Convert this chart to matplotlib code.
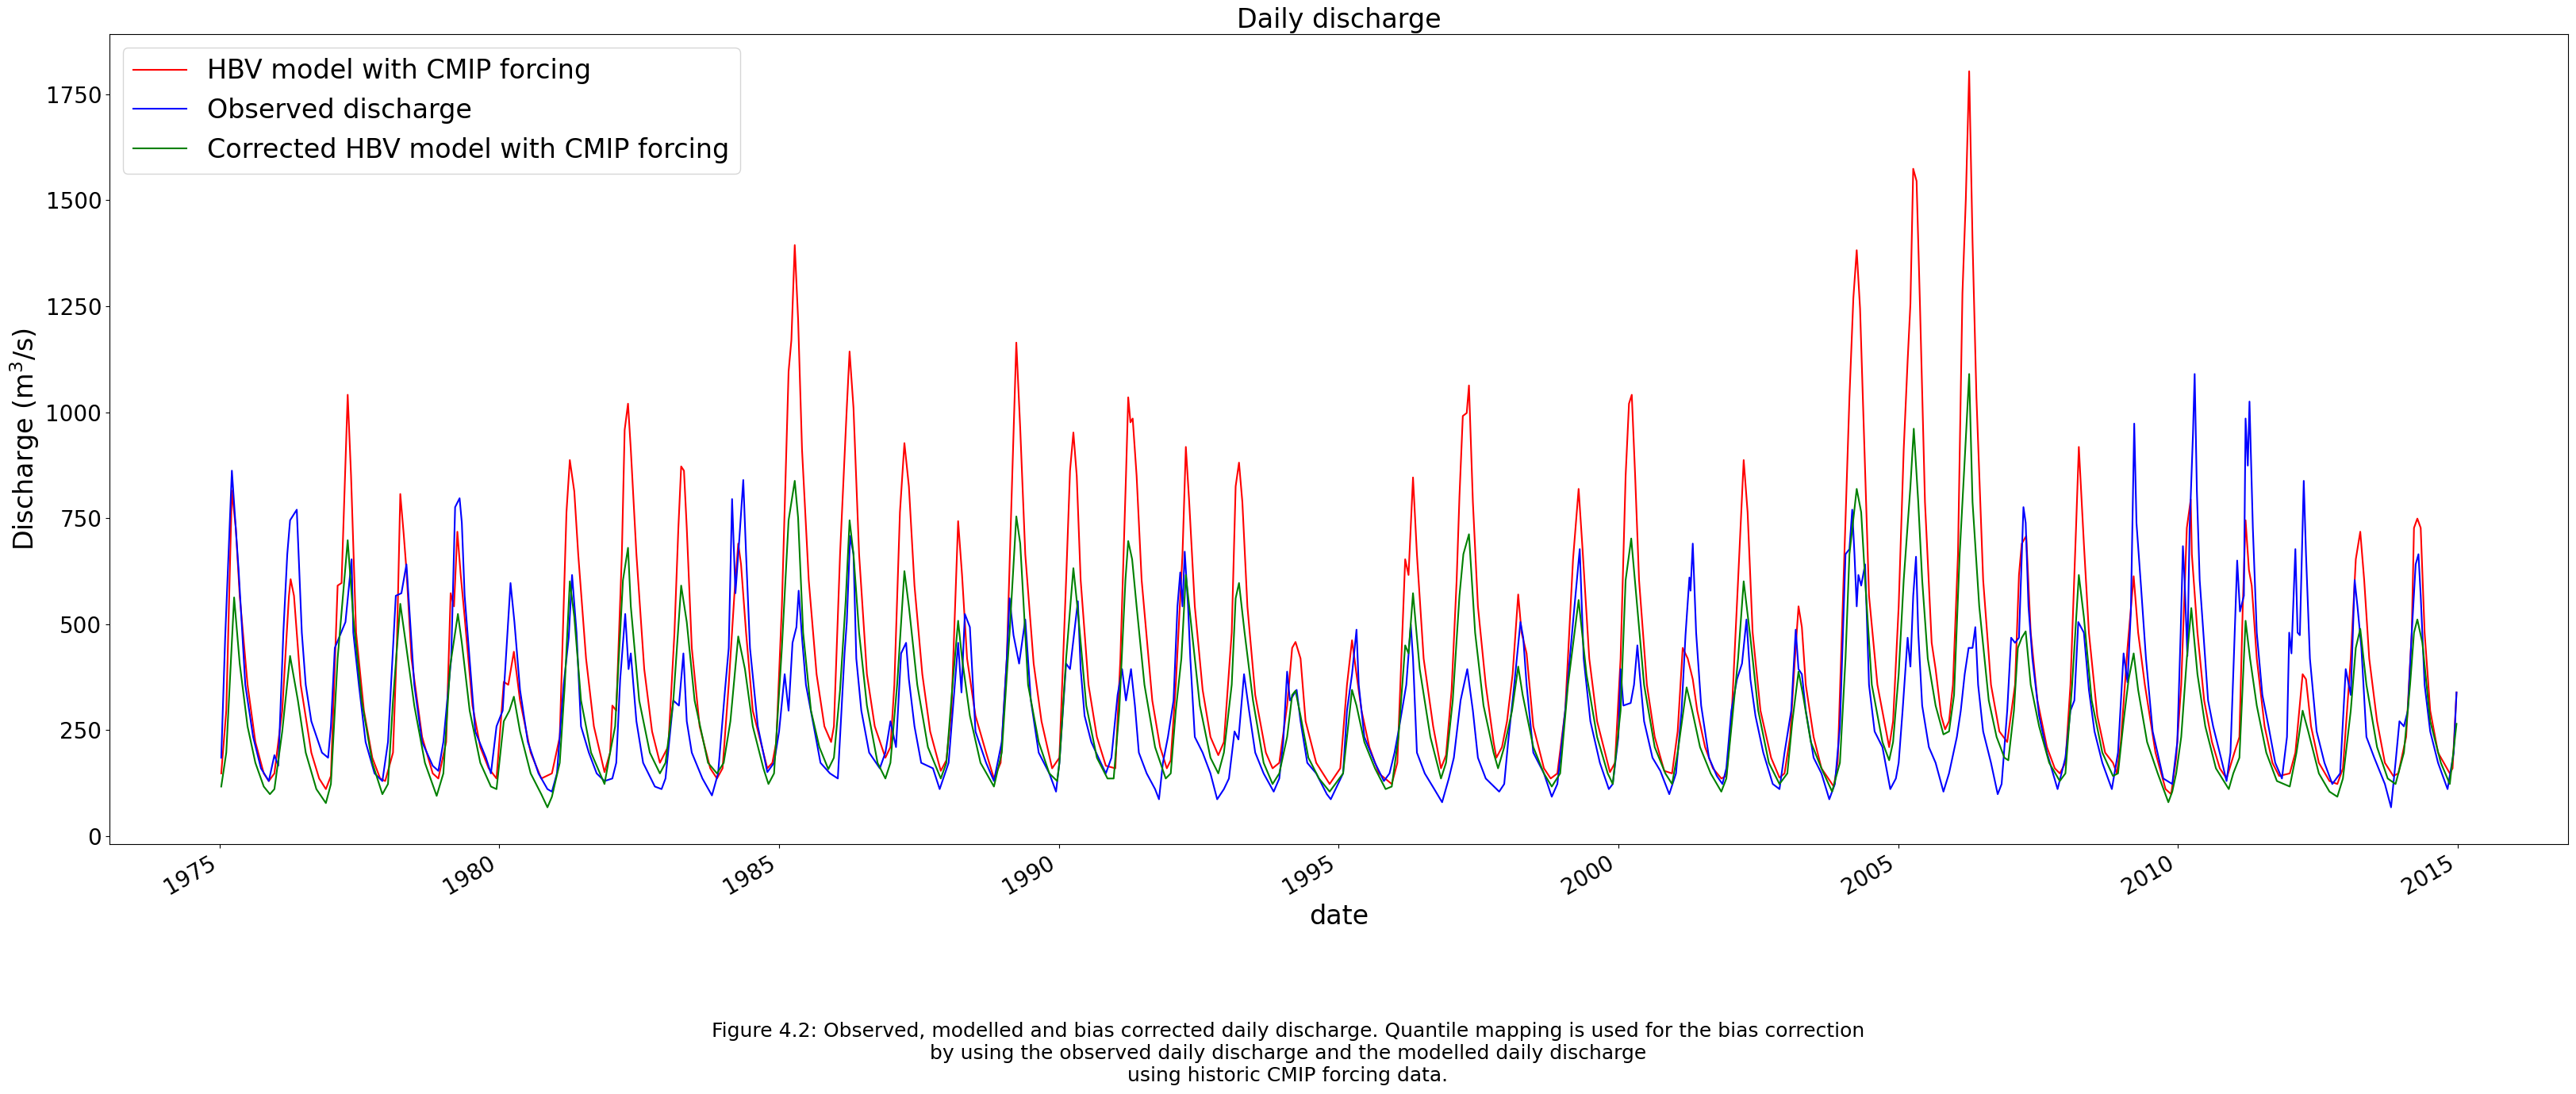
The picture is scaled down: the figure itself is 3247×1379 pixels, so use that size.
import matplotlib
matplotlib.use("Agg")
import matplotlib.pyplot as plt
import matplotlib.dates as mdates
import numpy as np
import pandas as pd

# ----- data (decimal year, discharge m3/s) -----
obs_t = [1975.03, 1975.10, 1975.22, 1975.34, 1975.46, 1975.60, 1975.74, 1975.88, 1975.98,
         1976.05, 1976.14, 1976.21, 1976.26, 1976.38, 1976.47, 1976.54, 1976.64, 1976.83, 1976.94, 1976.99,
         1977.06, 1977.25, 1977.36, 1977.39, 1977.49, 1977.61, 1977.77, 1977.91,
         1978.01, 1978.15, 1978.25, 1978.34, 1978.48, 1978.62, 1978.81, 1978.91,
         1979.00, 1979.14, 1979.21, 1979.29, 1979.33, 1979.38, 1979.57, 1979.76, 1979.85, 1979.95,
         1980.06, 1980.20, 1980.27, 1980.37, 1980.51, 1980.70, 1980.86, 1980.94,
         1981.03, 1981.15, 1981.24, 1981.30, 1981.38, 1981.46, 1981.60, 1981.74, 1981.88,
         1982.02, 1982.09, 1982.16, 1982.25, 1982.31, 1982.35, 1982.45, 1982.57, 1982.78, 1982.90, 1982.97,
         1983.11, 1983.21, 1983.29, 1983.35, 1983.44, 1983.63, 1983.80, 1983.91,
         1984.03, 1984.10, 1984.16, 1984.22, 1984.29, 1984.36, 1984.41, 1984.48, 1984.62, 1984.79, 1984.91,
         1985.00, 1985.10, 1985.17, 1985.24, 1985.31, 1985.35, 1985.41, 1985.48, 1985.62, 1985.74, 1985.91,
         1986.05, 1986.17, 1986.21, 1986.27, 1986.33, 1986.38, 1986.47, 1986.61, 1986.80, 1986.90, 1986.99,
         1987.09, 1987.18, 1987.27, 1987.32, 1987.42, 1987.54, 1987.75, 1987.87,
         1988.03, 1988.14, 1988.20, 1988.26, 1988.32, 1988.41, 1988.51, 1988.70, 1988.84, 1988.98,
         1989.07, 1989.12, 1989.19, 1989.29, 1989.40, 1989.50, 1989.64, 1989.83, 1989.95,
         1990.01, 1990.13, 1990.20, 1990.34, 1990.39, 1990.46, 1990.58, 1990.75, 1990.84, 1990.94,
         1991.05, 1991.13, 1991.20, 1991.29, 1991.36, 1991.43, 1991.57, 1991.72, 1991.79, 1991.86, 1991.95,
         1992.05, 1992.12, 1992.17, 1992.21, 1992.25, 1992.31, 1992.35, 1992.43, 1992.57, 1992.71, 1992.83, 1992.95,
         1993.04, 1993.14, 1993.21, 1993.31, 1993.40, 1993.51, 1993.66, 1993.84, 1993.94,
         1994.01, 1994.08, 1994.13, 1994.25, 1994.32, 1994.44, 1994.60, 1994.79, 1994.86,
         1995.08, 1995.15, 1995.24, 1995.32, 1995.36, 1995.46, 1995.65, 1995.81, 1995.91,
         1996.00, 1996.07, 1996.21, 1996.29, 1996.33, 1996.40, 1996.54, 1996.71, 1996.85, 1996.97,
         1997.06, 1997.18, 1997.30, 1997.40, 1997.49, 1997.63, 1997.87, 1997.96,
         1998.03, 1998.13, 1998.25, 1998.30, 1998.36, 1998.48, 1998.67, 1998.81, 1998.91,
         1999.05, 1999.19, 1999.31, 1999.38, 1999.50, 1999.67, 1999.83, 1999.90,
         2000.00, 2000.04, 2000.09, 2000.22, 2000.28, 2000.34, 2000.39, 2000.46, 2000.61, 2000.75, 2000.91,
         2001.03, 2001.13, 2001.20, 2001.27, 2001.29, 2001.33, 2001.39, 2001.48, 2001.62, 2001.76, 2001.86, 2001.93,
         2002.02, 2002.12, 2002.21, 2002.29, 2002.36, 2002.45, 2002.59, 2002.76, 2002.88, 2002.97,
         2003.09, 2003.17, 2003.22, 2003.28, 2003.35, 2003.49, 2003.63, 2003.77, 2003.87, 2003.96,
         2004.06, 2004.13, 2004.18, 2004.22, 2004.26, 2004.29, 2004.34, 2004.41, 2004.48, 2004.58, 2004.72, 2004.86, 2004.96,
         2005.01, 2005.08, 2005.17, 2005.22, 2005.27, 2005.32, 2005.36, 2005.43, 2005.55, 2005.67, 2005.81, 2005.91,
         2006.05, 2006.12, 2006.19, 2006.26, 2006.33, 2006.38, 2006.43, 2006.52, 2006.66, 2006.78, 2006.85, 2006.95,
         2007.02, 2007.09, 2007.16, 2007.24, 2007.28, 2007.33, 2007.40, 2007.52, 2007.66, 2007.85, 2007.99,
         2008.08, 2008.15, 2008.22, 2008.32, 2008.41, 2008.51, 2008.65, 2008.82, 2008.93,
         2009.03, 2009.10, 2009.16, 2009.22, 2009.26, 2009.34, 2009.43, 2009.55, 2009.74, 2009.90, 2009.99,
         2010.05, 2010.09, 2010.12, 2010.17, 2010.21, 2010.27, 2010.30, 2010.34, 2010.39, 2010.54, 2010.63, 2010.77, 2010.87, 2010.94,
         2011.00, 2011.06, 2011.11, 2011.18, 2011.21, 2011.25, 2011.28, 2011.34, 2011.41, 2011.51, 2011.62, 2011.74, 2011.86, 2011.95, 2011.99,
         2012.03, 2012.10, 2012.14, 2012.18, 2012.25, 2012.29, 2012.36, 2012.48, 2012.62, 2012.76, 2012.90,
         2013.00, 2013.09, 2013.16, 2013.21, 2013.28, 2013.37, 2013.51, 2013.70, 2013.81, 2013.89, 2013.96,
         2014.04, 2014.11, 2014.18, 2014.25, 2014.30, 2014.34, 2014.41, 2014.51, 2014.65, 2014.82, 2014.93, 2014.98]
obs_q = [185, 468, 862, 628, 357, 234, 160, 130, 191,
         166, 480, 665, 745, 770, 480, 357, 271, 197, 185, 259,
         444, 505, 653, 480, 357, 222, 148, 130,
         222, 567, 573, 641, 357, 222, 166, 154,
         222, 419, 776, 797, 739, 567, 247, 185, 148, 259,
         296, 597, 505, 345, 222, 148, 111, 105,
         148, 357, 468, 616, 480, 259, 197, 148, 130,
         136, 173, 370, 524, 394, 431, 271, 173, 117, 111, 136,
         320, 308, 431, 271, 197, 136, 96, 148,
         339, 444, 795, 573, 702, 840, 665, 444, 259, 151, 173,
         247, 382, 296, 456, 493, 579, 468, 357, 259, 173, 148,
         136, 431, 505, 708, 665, 419, 296, 197, 160, 197, 271,
         210, 431, 456, 370, 259, 173, 160, 111,
         173, 357, 456, 339, 524, 493, 247, 173, 130, 222,
         419, 561, 474, 407, 511, 320, 197, 148, 105,
         173, 407, 394, 554, 394, 284, 222, 173, 148, 185,
         333, 394, 320, 394, 308, 197, 148, 111, 87, 173, 234,
         320, 542, 622, 542, 671, 542, 419, 234, 197, 148, 87, 111,
         136, 247, 228, 382, 296, 197, 148, 105, 136,
         222, 388, 320, 345, 271, 173, 148, 99, 87,
         148, 296, 382, 487, 357, 234, 173, 130, 148,
         197, 247, 357, 499, 419, 197, 148, 111, 80, 136,
         185, 320, 394, 296, 185, 136, 105, 123,
         222, 345, 505, 468, 357, 197, 148, 93, 123,
         296, 505, 677, 419, 271, 173, 111, 123,
         234, 394, 308, 314, 357, 450, 370, 271, 185, 154, 99,
         148, 296, 474, 610, 579, 690, 480, 308, 185, 142, 123, 160,
         296, 370, 407, 511, 370, 284, 197, 123, 111, 197,
         296, 487, 394, 382, 296, 185, 148, 87, 123, 259,
         665, 677, 770, 665, 542, 616, 591, 641, 357, 247, 210, 111, 136,
         173, 296, 468, 400, 567, 659, 480, 308, 210, 173, 105, 148,
         234, 296, 382, 444, 444, 493, 357, 247, 173, 99, 123, 296,
         468, 456, 468, 776, 739, 542, 419, 284, 197, 111, 185,
         296, 320, 505, 480, 345, 247, 173, 111, 197,
         431, 363, 530, 973, 739, 591, 419, 247, 136, 123, 222,
         480, 684, 604, 425, 727, 948, 1090, 813, 604, 320, 259, 185, 130, 197,
         419, 650, 530, 567, 985, 874, 1025, 727, 480, 333, 259, 173, 136, 234, 480,
         431, 677, 480, 474, 838, 665, 419, 247, 173, 123, 148,
         394, 333, 604, 542, 444, 234, 185, 123, 68, 173, 271,
         259, 296, 480, 641, 665, 567, 357, 247, 173, 111, 197, 339]

hbv_t = [1975.03, 1975.12, 1975.22, 1975.29, 1975.36, 1975.50, 1975.64, 1975.79, 1975.88, 1975.98,
         1976.12, 1976.24, 1976.27, 1976.33, 1976.45, 1976.64, 1976.78, 1976.90, 1976.99,
         1977.11, 1977.18, 1977.29, 1977.35, 1977.44, 1977.58, 1977.73, 1977.87, 1977.96,
         1978.10, 1978.17, 1978.23, 1978.29, 1978.34, 1978.43, 1978.62, 1978.81, 1978.91,
         1979.05, 1979.13, 1979.19, 1979.25, 1979.31, 1979.38, 1979.52, 1979.66, 1979.81, 1979.95,
         1980.08, 1980.16, 1980.26, 1980.37, 1980.56, 1980.75, 1980.94,
         1981.08, 1981.20, 1981.26, 1981.34, 1981.41, 1981.55, 1981.69, 1981.88, 1981.98,
         1982.02, 1982.09, 1982.19, 1982.24, 1982.30, 1982.35, 1982.45, 1982.59, 1982.73, 1982.87,
         1983.02, 1983.13, 1983.20, 1983.25, 1983.30, 1983.35, 1983.44, 1983.58, 1983.77, 1983.89, 1983.99,
         1984.10, 1984.20, 1984.27, 1984.32, 1984.41, 1984.53, 1984.72, 1984.79, 1984.88, 1984.95,
         1985.05, 1985.17, 1985.22, 1985.28, 1985.34, 1985.41, 1985.53, 1985.67, 1985.81, 1985.93, 1985.98,
         1986.09, 1986.21, 1986.26, 1986.33, 1986.43, 1986.57, 1986.71, 1986.90, 1986.99,
         1987.06, 1987.16, 1987.24, 1987.32, 1987.42, 1987.56, 1987.70, 1987.89, 1987.99,
         1988.08, 1988.20, 1988.27, 1988.36, 1988.51, 1988.70, 1988.84, 1988.96,
         1989.07, 1989.17, 1989.24, 1989.31, 1989.40, 1989.55, 1989.69, 1989.88,
         1990.01, 1990.13, 1990.20, 1990.26, 1990.32, 1990.39, 1990.53, 1990.68, 1990.84,
         1991.01, 1991.10, 1991.20, 1991.24, 1991.28, 1991.32, 1991.39, 1991.48, 1991.67, 1991.81, 1991.93,
         1992.00, 1992.09, 1992.21, 1992.27, 1992.33, 1992.43, 1992.57, 1992.71, 1992.85, 1992.95,
         1993.09, 1993.16, 1993.22, 1993.28, 1993.37, 1993.51, 1993.70, 1993.82, 1993.94,
         1994.08, 1994.17, 1994.23, 1994.32, 1994.41, 1994.60, 1994.84,
         1995.03, 1995.15, 1995.24, 1995.32, 1995.41, 1995.55, 1995.72, 1995.95,
         1996.05, 1996.14, 1996.19, 1996.25, 1996.33, 1996.40, 1996.52, 1996.69, 1996.83, 1996.92,
         1997.02, 1997.11, 1997.16, 1997.22, 1997.29, 1997.33, 1997.40, 1997.49, 1997.63, 1997.77, 1997.82, 1997.92,
         1998.01, 1998.11, 1998.21, 1998.27, 1998.36, 1998.48, 1998.67, 1998.79, 1998.91,
         1999.05, 1999.19, 1999.29, 1999.36, 1999.48, 1999.62, 1999.85, 1999.94,
         2000.04, 2000.13, 2000.19, 2000.24, 2000.30, 2000.37, 2000.51, 2000.65, 2000.82, 2000.96,
         2001.06, 2001.15, 2001.24, 2001.33, 2001.41, 2001.55, 2001.69, 2001.84, 2001.93,
         2002.02, 2002.14, 2002.24, 2002.31, 2002.40, 2002.54, 2002.73, 2002.88, 2002.97,
         2003.07, 2003.15, 2003.22, 2003.28, 2003.35, 2003.49, 2003.63, 2003.85, 2003.92,
         2004.01, 2004.13, 2004.20, 2004.26, 2004.32, 2004.39, 2004.48, 2004.63, 2004.77, 2004.84, 2004.91,
         2005.01, 2005.10, 2005.17, 2005.22, 2005.27, 2005.33, 2005.39, 2005.48, 2005.60, 2005.67, 2005.77, 2005.84, 2005.91, 2005.98,
         2006.07, 2006.15, 2006.21, 2006.27, 2006.33, 2006.40, 2006.52, 2006.66, 2006.81, 2006.95,
         2007.09, 2007.16, 2007.21, 2007.29, 2007.37, 2007.49, 2007.66, 2007.80, 2007.89, 2007.99,
         2008.08, 2008.18, 2008.23, 2008.32, 2008.41, 2008.56, 2008.70, 2008.84, 2008.91, 2008.98,
         2009.10, 2009.21, 2009.29, 2009.41, 2009.60, 2009.78, 2009.88, 2009.97,
         2010.06, 2010.16, 2010.23, 2010.25, 2010.35, 2010.47, 2010.61, 2010.75, 2010.87,
         2011.01, 2011.10, 2011.16, 2011.21, 2011.27, 2011.32, 2011.41, 2011.55, 2011.69, 2011.81,
         2012.00, 2012.10, 2012.17, 2012.23, 2012.29, 2012.38, 2012.52, 2012.71, 2012.85, 2012.95,
         2013.09, 2013.18, 2013.26, 2013.33, 2013.42, 2013.56, 2013.70, 2013.85, 2013.94,
         2014.08, 2014.18, 2014.22, 2014.28, 2014.34, 2014.41, 2014.51, 2014.65, 2014.86, 2014.91, 2014.98]
hbv_q = [148, 296, 815, 727, 567, 357, 222, 148, 130, 148,
         296, 567, 606, 567, 357, 197, 136, 111, 142,
         591, 597, 1041, 850, 480, 296, 185, 136, 130,
         197, 456, 807, 714, 628, 419, 234, 148, 136,
         222, 573, 542, 718, 616, 517, 308, 210, 160, 136,
         364, 357, 435, 320, 197, 136, 148,
         234, 764, 887, 813, 665, 419, 259, 151, 197,
         308, 296, 665, 958, 1020, 912, 665, 394, 247, 173,
         212, 480, 727, 872, 862, 727, 444, 259, 160, 136, 160,
         357, 567, 690, 641, 480, 296, 197, 160, 173, 222,
         542, 1096, 1170, 1394, 1219, 912, 604, 382, 259, 222, 259,
         665, 1010, 1143, 1010, 665, 382, 259, 185, 210,
         357, 764, 927, 825, 591, 382, 247, 154, 179,
         296, 743, 616, 419, 284, 197, 136, 173,
         419, 862, 1164, 961, 665, 407, 271, 160,
         185, 604, 862, 952, 850, 604, 357, 234, 166,
         160, 419, 850, 1035, 976, 985, 850, 604, 320, 210, 160,
         179, 357, 665, 918, 788, 542, 345, 234, 191, 222,
         480, 825, 881, 788, 542, 333, 197, 160, 173,
         308, 444, 458, 419, 271, 173, 123,
         160, 357, 462, 382, 296, 210, 148, 123,
         173, 480, 653, 616, 846, 665, 419, 259, 160, 191,
         345, 604, 801, 991, 998, 1063, 788, 542, 357, 222, 185, 210,
         271, 382, 570, 480, 431, 259, 160, 136, 148,
         296, 653, 819, 677, 419, 271, 151, 173,
         419, 850, 1020, 1041, 850, 604, 357, 234, 154, 148,
         247, 444, 419, 370, 296, 210, 160, 136, 142,
         271, 604, 887, 764, 480, 296, 185, 138, 148,
         234, 407, 542, 493, 357, 234, 160, 117, 173,
         542, 1035, 1269, 1382, 1244, 948, 567, 357, 259, 210, 271,
         542, 912, 1121, 1256, 1574, 1545, 1256, 788, 456, 394, 284, 252, 271, 357,
         665, 1281, 1502, 1804, 1404, 1035, 604, 357, 247, 222,
         357, 616, 690, 708, 480, 320, 210, 160, 148, 173,
         357, 727, 918, 690, 480, 284, 197, 173, 148, 222,
         444, 613, 480, 357, 197, 111, 99, 185,
         357, 727, 794, 665, 480, 320, 222, 160, 136,
         197, 234, 542, 745, 628, 591, 419, 259, 173, 142,
         148, 197, 296, 382, 370, 259, 173, 130, 123, 160,
         419, 653, 718, 604, 419, 271, 173, 142, 148,
         234, 480, 727, 749, 727, 480, 296, 197, 148, 160, 339]

cor_t = [1975.03, 1975.12, 1975.26, 1975.36, 1975.50, 1975.64, 1975.79, 1975.90, 1975.98,
         1976.12, 1976.26, 1976.40, 1976.54, 1976.73, 1976.90, 1976.99,
         1977.11, 1977.29, 1977.39, 1977.54, 1977.73, 1977.91,
         1978.01, 1978.10, 1978.23, 1978.34, 1978.48, 1978.67, 1978.88,
         1979.00, 1979.12, 1979.26, 1979.33, 1979.47, 1979.66, 1979.85, 1979.95,
         1980.08, 1980.18, 1980.26, 1980.37, 1980.56, 1980.75, 1980.86, 1980.94,
         1981.08, 1981.17, 1981.26, 1981.34, 1981.46, 1981.64, 1981.88, 1981.98,
         1982.07, 1982.21, 1982.30, 1982.35, 1982.50, 1982.69, 1982.87, 1982.97,
         1983.11, 1983.25, 1983.35, 1983.49, 1983.73, 1983.89,
         1984.01, 1984.13, 1984.27, 1984.39, 1984.53, 1984.72, 1984.81, 1984.91,
         1985.05, 1985.17, 1985.28, 1985.34, 1985.43, 1985.57, 1985.72, 1985.88, 1985.98,
         1986.09, 1986.19, 1986.26, 1986.33, 1986.43, 1986.57, 1986.76, 1986.90, 1986.99,
         1987.11, 1987.24, 1987.32, 1987.47, 1987.66, 1987.89, 1987.99,
         1988.10, 1988.20, 1988.27, 1988.41, 1988.60, 1988.84, 1988.98,
         1989.12, 1989.24, 1989.31, 1989.45, 1989.64, 1989.83, 1989.97,
         1990.01, 1990.13, 1990.26, 1990.35, 1990.49, 1990.68, 1990.87, 1990.98,
         1991.08, 1991.19, 1991.24, 1991.31, 1991.39, 1991.53, 1991.72, 1991.91,
         1992.00, 1992.09, 1992.19, 1992.27, 1992.38, 1992.52, 1992.71, 1992.85, 1992.95,
         1993.09, 1993.16, 1993.22, 1993.32, 1993.47, 1993.66, 1993.82, 1993.94,
         1994.08, 1994.17, 1994.23, 1994.32, 1994.46, 1994.65, 1994.84,
         1995.08, 1995.24, 1995.32, 1995.46, 1995.65, 1995.84, 1995.95,
         1996.07, 1996.19, 1996.25, 1996.33, 1996.45, 1996.64, 1996.83, 1996.92,
         1997.04, 1997.16, 1997.23, 1997.33, 1997.44, 1997.59, 1997.77, 1997.85, 1997.96,
         1998.10, 1998.21, 1998.29, 1998.48, 1998.67, 1998.81, 1998.96,
         1999.10, 1999.29, 1999.43, 1999.62, 1999.81, 1999.90,
         2000.04, 2000.13, 2000.23, 2000.32, 2000.46, 2000.65, 2000.84, 2000.96,
         2001.06, 2001.15, 2001.22, 2001.32, 2001.46, 2001.65, 2001.84, 2001.93,
         2002.05, 2002.14, 2002.24, 2002.36, 2002.50, 2002.69, 2002.88,
         2003.02, 2003.11, 2003.22, 2003.30, 2003.44, 2003.63, 2003.82, 2003.96,
         2004.06, 2004.13, 2004.26, 2004.34, 2004.41, 2004.53, 2004.72, 2004.84, 2004.91,
         2005.01, 2005.10, 2005.22, 2005.28, 2005.36, 2005.43, 2005.53, 2005.67, 2005.81, 2005.91,
         2006.00, 2006.10, 2006.19, 2006.27, 2006.33, 2006.45, 2006.62, 2006.76, 2006.90, 2006.97,
         2007.07, 2007.14, 2007.21, 2007.28, 2007.37, 2007.52, 2007.70, 2007.89, 2007.99,
         2008.11, 2008.23, 2008.32, 2008.46, 2008.65, 2008.84, 2008.93,
         2009.03, 2009.12, 2009.21, 2009.29, 2009.45, 2009.64, 2009.83, 2009.90, 2009.97,
         2010.06, 2010.16, 2010.24, 2010.35, 2010.49, 2010.68, 2010.91, 2010.99,
         2011.10, 2011.21, 2011.29, 2011.41, 2011.58, 2011.77,
         2012.00, 2012.12, 2012.23, 2012.33, 2012.52, 2012.71, 2012.85, 2012.95,
         2013.09, 2013.18, 2013.26, 2013.37, 2013.56, 2013.75, 2013.89,
         2014.04, 2014.15, 2014.22, 2014.28, 2014.37, 2014.51, 2014.70, 2014.86, 2014.98]
cor_q = [117, 197, 563, 407, 259, 173, 117, 99, 111,
         247, 425, 320, 197, 111, 78, 123,
         419, 698, 517, 320, 173, 99,
         123, 320, 548, 444, 308, 173, 95,
         148, 400, 524, 456, 296, 173, 117, 111,
         271, 296, 329, 247, 148, 99, 68, 93,
         173, 357, 601, 517, 320, 197, 123, 197,
         259, 604, 680, 542, 320, 197, 148, 173,
         320, 591, 505, 320, 173, 148,
         173, 271, 471, 394, 259, 160, 123, 148,
         444, 745, 838, 751, 480, 296, 210, 158, 185,
         345, 554, 745, 665, 480, 308, 173, 136, 173,
         357, 625, 542, 357, 210, 136, 173,
         357, 508, 419, 284, 173, 117, 197,
         480, 754, 690, 357, 222, 148, 130,
         173, 419, 632, 517, 308, 185, 136, 136,
         296, 604, 696, 653, 542, 357, 210, 136,
         148, 296, 419, 616, 480, 308, 185, 148, 197,
         357, 561, 597, 480, 320, 173, 123, 148,
         234, 333, 343, 284, 185, 136, 105,
         148, 345, 308, 222, 160, 111, 117,
         234, 450, 431, 573, 394, 234, 136, 173,
         320, 567, 665, 712, 480, 308, 197, 160, 210,
         296, 400, 333, 210, 148, 117, 148,
         357, 557, 382, 234, 148, 123,
         296, 604, 702, 567, 357, 210, 148, 123,
         197, 284, 351, 296, 210, 148, 105, 136,
         296, 419, 601, 468, 296, 173, 123,
         148, 271, 388, 333, 222, 160, 105, 173,
         419, 665, 819, 764, 604, 357, 222, 179, 222,
         382, 604, 825, 961, 788, 604, 419, 308, 240, 247,
         333, 665, 887, 1090, 788, 542, 320, 234, 185, 179,
         296, 444, 468, 483, 357, 259, 173, 130, 148,
         357, 616, 517, 320, 197, 142, 148,
         271, 370, 431, 345, 222, 148, 80, 105, 148,
         234, 419, 538, 382, 259, 160, 111, 148,
         185, 508, 419, 308, 197, 130,
         117, 197, 296, 247, 148, 105, 93, 136,
         296, 444, 489, 357, 210, 136, 123,
         197, 357, 480, 511, 456, 271, 173, 123, 265]

caption = ("Figure 4.2: Observed, modelled and bias corrected daily discharge. "
           "Quantile mapping is used for the bias correction\n"
           "by using the observed daily discharge and the modelled daily discharge\n"
           "using historic CMIP forcing data.")


def to_dates(years):
    years = np.asarray(years)
    return pd.to_datetime("1975-01-01") + pd.to_timedelta((years - 1975.0) * 365.25, unit="D")


fig, ax = plt.subplots(figsize=(32.47, 13.79), dpi=100)
fig.subplots_adjust(left=0.0425, right=0.997, top=0.9685, bottom=0.2284)

ax.plot(to_dates(hbv_t), hbv_q, color="red", label="HBV model with CMIP forcing")
ax.plot(to_dates(obs_t), obs_q, color="blue", label="Observed discharge")
ax.plot(to_dates(cor_t), cor_q, color="green", label="Corrected HBV model with CMIP forcing")

ax.xaxis.set_major_locator(mdates.YearLocator(5))
ax.xaxis.set_major_formatter(mdates.DateFormatter("%Y"))
ax.tick_params(axis="both", labelsize=20)
for lab in ax.get_xticklabels():
    lab.set_rotation(30)
    lab.set_ha("right")

ax.set_title("Daily discharge", fontsize=24)
ax.set_xlabel("date", fontsize=24)
ax.set_ylabel("Discharge (m$^3$/s)", fontsize=24)
ax.legend(loc="upper left", fontsize=24)

fig.text(0.5, 0.037, caption, ha="center", va="center", fontsize=18)

fig.savefig("out.png", dpi=100)
